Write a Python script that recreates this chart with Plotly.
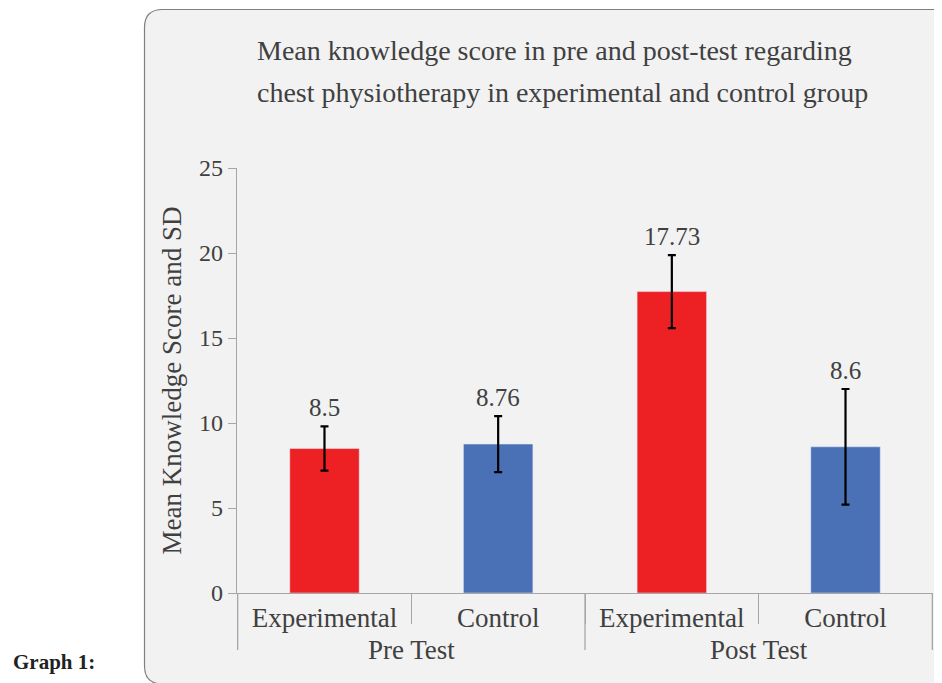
import plotly.graph_objects as go

groups = ["Pre Test", "Pre Test", "Post Test", "Post Test"]
arms = ["Experimental", "Control", "Experimental", "Control"]
means = [8.5, 8.76, 17.73, 8.6]
sds = [1.3, 1.65, 2.15, 3.4]
labels = ["8.5", "8.76", "17.73", "8.6"]
colors = ["#ED2124", "#4A70B6", "#ED2124", "#4A70B6"]
title_lines = ["Mean knowledge score in pre and post-test regarding",
               "chest physiotherapy in experimental and control group"]
y_title = "Mean Knowledge Score and SD"

FONT = "Liberation Serif"
TXT = "#404040"
AX = "#A6A6A6"
OFF = 8  # browser body margin
W, H = 942 - OFF, 683 - OFF
L, T = 237 - OFF, 168 - OFF
R = W - (933 - OFF)
B = H - (593 - OFF)
pw, ph = W - L - R, H - T - B

def px(x):  # screen pixel -> paper
    return (x - OFF - L) / pw

def py(y):
    return (H - B - (y - OFF)) / ph

fig = go.Figure()
fig.add_trace(go.Bar(
    x=[groups, arms], y=means, marker_color=colors, width=0.4,
    error_y=dict(type="data", array=sds, color="black", thickness=2.2, width=4),
    showlegend=False, hoverinfo="skip"))

for i, (m, s, lab) in enumerate(zip(means, sds, labels)):
    fig.add_annotation(x=i, y=m + s, text=lab, showarrow=False, yanchor="bottom",
                       yshift=3, font=dict(family=FONT, size=25, color=TXT))

# group dividers between outer categories
n = len(means)
bounds = [-0.5] + [i + 0.5 for i in range(n - 1) if groups[i] != groups[i + 1]] + [n - 0.5]
for b in bounds:
    fig.add_shape(type="line", xref="x", yref="paper", x0=b, x1=b, y0=0, y1=py(650),
                  line=dict(color=AX, width=1.3))

# panel with rounded corners
x0, x1, y0, y1 = px(144.5), px(960), py(684), py(9.5)
rx, ry = 18 / pw, 18 / ph
path = (f"M {x0+rx},{y1} L {x1},{y1} L {x1},{y0} L {x0+rx},{y0} "
        f"Q {x0},{y0} {x0},{y0+ry} L {x0},{y1-ry} Q {x0},{y1} {x0+rx},{y1} Z")
fig.add_shape(type="path", path=path, xref="paper", yref="paper",
              fillcolor="#F2F2F2", line=dict(color="#7F7F7F", width=1.2), layer="below")

for i, line in enumerate(title_lines):
    fig.add_annotation(text=line, xref="paper", yref="paper", x=px(255), y=py(50 + 43 * i),
                       xanchor="left", yanchor="middle", showarrow=False,
                       font=dict(family=FONT, size=28, color=TXT))
fig.add_annotation(text="<b>Graph 1:</b>", xref="paper", yref="paper", x=px(11), y=py(662),
                   xanchor="left", yanchor="middle", showarrow=False,
                   font=dict(family=FONT, size=21, color="#222222"))

fig.update_layout(
    width=W, height=H, margin=dict(l=L, r=R, t=T, b=B),
    paper_bgcolor="white", plot_bgcolor="rgba(0,0,0,0)",
    font=dict(family=FONT, color=TXT, size=26),
    bargap=0.6,
)
fig.update_yaxes(range=[0, 25], dtick=5, showgrid=False, zeroline=False,
                 showline=True, linecolor=AX, linewidth=1.3,
                 ticks="outside", ticklen=8, tickcolor=AX,
                 tickfont=dict(size=24, color=TXT),
                 title=dict(text=y_title, font=dict(size=27, color=TXT), standoff=9))
fig.update_xaxes(showgrid=False, showline=True, linecolor=AX, linewidth=1.3,
                 ticks="outside", tickson="boundaries", ticklen=30, tickcolor=AX,
                 showdividers=False,
                 tickfont=dict(size=27, color=TXT))

fig.write_html("out.html")
